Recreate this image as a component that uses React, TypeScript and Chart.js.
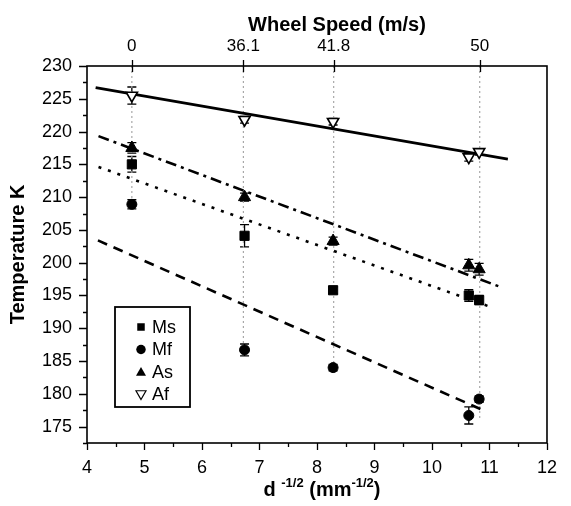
import React, { useEffect, useRef } from 'react';
import { Chart, registerables } from 'chart.js';

Chart.register(...registerables);

const FONT = "'Liberation Sans', Arial, Helvetica, sans-serif";

// ---- data ----
const seriesNames = ['Ms', 'Mf', 'As', 'Af'];
const pointX = [4.78, 6.74, 8.28, 10.64, 10.82];
const msValues = [215.0, 204.1, 195.8, 195.0, 194.3];
const mfValues = [208.9, 186.7, 184.0, 176.7, 179.2];
const asValues = [217.5, 210.0, 203.3, 199.6, 199.0];
const afValues = [225.5, 221.8, 221.5, 216.1, 216.9];
const msErrors = [1.2, 1.7, 0.5, 0.9, 0.7];
const mfErrors = [0.7, 0.9, 0.5, 1.3, 0.5];
const asErrors = [0.8, 0.6, 0.6, 0.9, 0.9];
const afErrors = [1.3, 0.5, 0.5, 0.6, 0.5];

// linear fits (endpoints)
const msFitX = [4.2, 10.97];
const msFitY = [214.6, 193.4];
const mfFitX = [4.19, 10.94];
const mfFitY = [203.4, 177.3];
const asFitX = [4.2, 11.19];
const asFitY = [219.3, 196.3];
const afFitX = [4.15, 11.32];
const afFitY = [226.7, 215.8];

// wheel speed (top axis)
const speedPositions = [4.78, 6.72, 8.29, 10.83];
const speedLabels = ['0', '36.1', '41.8', '50'];
const guideBottoms = [208.5, 186.3, 183.6, 176.0];

const xTicks = [4, 5, 6, 7, 8, 9, 10, 11, 12];
const yTicks = [175, 180, 185, 190, 195, 200, 205, 210, 215, 220, 225, 230];

const X_MIN = 4;
const X_MAX = 12;
const Y_MIN = 172.5;
const Y_MAX = 230;

const valuesBySeries = [msValues, mfValues, asValues, afValues];
const errorsBySeries = [msErrors, mfErrors, asErrors, afErrors];
const fitsBySeries = [
  [msFitX, msFitY],
  [mfFitX, mfFitY],
  [asFitX, asFitY],
  [afFitX, afFitY],
];
const fitDashes = [[3, 7], [10, 7], [11, 5, 3, 5], []];
const markerStyles = [
  { pointStyle: 'rect', radius: 6.5, rotation: 0, fill: '#000', border: 1 },
  { pointStyle: 'circle', radius: 5, rotation: 0, fill: '#000', border: 1 },
  { pointStyle: 'triangle', radius: 7, rotation: 0, fill: '#000', border: 1 },
  { pointStyle: 'triangle', radius: 6.5, rotation: 180, fill: '#fff', border: 1.6 },
];

function drawShape(ctx: CanvasRenderingContext2D, kind: number, x: number, y: number, s: number) {
  ctx.save();
  ctx.strokeStyle = '#000';
  ctx.fillStyle = '#000';
  ctx.lineWidth = 1.2;
  ctx.beginPath();
  if (kind === 0) {
    ctx.rect(x - s * 0.75, y - s * 0.75, s * 1.5, s * 1.5);
    ctx.fill();
  } else if (kind === 1) {
    ctx.arc(x, y, s * 0.95, 0, Math.PI * 2);
    ctx.fill();
  } else if (kind === 2) {
    ctx.moveTo(x, y - s);
    ctx.lineTo(x + s * 1.0, y + s * 0.75);
    ctx.lineTo(x - s * 1.0, y + s * 0.75);
    ctx.closePath();
    ctx.fill();
  } else {
    ctx.moveTo(x, y + s);
    ctx.lineTo(x + s * 1.0, y - s * 0.75);
    ctx.lineTo(x - s * 1.0, y - s * 0.75);
    ctx.closePath();
    ctx.fillStyle = '#fff';
    ctx.fill();
    ctx.stroke();
  }
  ctx.restore();
}

const errorBarPlugin = {
  id: 'errorBars',
  beforeDatasetsDraw(chart: any) {
    const ctx = chart.ctx as CanvasRenderingContext2D;
    const yScale = chart.scales.y;
    ctx.save();
    ctx.strokeStyle = '#000';
    ctx.lineWidth = 1.3;
    chart.data.datasets.forEach((ds: any, di: number) => {
      if (ds.errors == null) return;
      const meta = chart.getDatasetMeta(di);
      meta.data.forEach((pt: any, j: number) => {
        const v = ds.data[j].y;
        const e = ds.errors[j];
        const x = pt.x;
        const yTop = yScale.getPixelForValue(v + e);
        const yBot = yScale.getPixelForValue(v - e);
        ctx.beginPath();
        ctx.moveTo(x, yTop);
        ctx.lineTo(x, yBot);
        ctx.moveTo(x - 4.5, yTop);
        ctx.lineTo(x + 4.5, yTop);
        ctx.moveTo(x - 4.5, yBot);
        ctx.lineTo(x + 4.5, yBot);
        ctx.stroke();
      });
    });
    ctx.restore();
  },
};

const framePlugin = {
  id: 'frame',
  afterDraw(chart: any) {
    const ctx = chart.ctx as CanvasRenderingContext2D;
    const { left, right, top, bottom } = chart.chartArea;
    const xs = chart.scales.x;
    const ys = chart.scales.y;
    ctx.save();
    ctx.strokeStyle = '#000';
    ctx.lineWidth = 1.6;
    ctx.strokeRect(left, top, right - left, bottom - top);
    ctx.lineWidth = 1.3;
    ctx.beginPath();
    // y ticks (outward)
    for (let v = Y_MIN; v <= Y_MAX + 1e-6; v += 2.5) {
      const y = Math.round(ys.getPixelForValue(v)) + 0.5;
      const major = Math.abs(v / 5 - Math.round(v / 5)) < 1e-6;
      ctx.moveTo(left, y);
      ctx.lineTo(left - (major ? 8 : 4), y);
    }
    // bottom x ticks (outward)
    for (let v = X_MIN; v <= X_MAX + 1e-6; v += 0.5) {
      const x = Math.round(xs.getPixelForValue(v)) + 0.5;
      const major = Math.abs(v - Math.round(v)) < 1e-6;
      ctx.moveTo(x, bottom);
      ctx.lineTo(x, bottom + (major ? 7 : 4));
    }
    // top ticks (crossing)
    speedPositions.forEach((p) => {
      const x = Math.round(xs.getPixelForValue(p)) + 0.5;
      ctx.moveTo(x, top - 6);
      ctx.lineTo(x, top + 6);
    });
    ctx.stroke();

    // legend
    const lx = 115, ly = 307, lw = 75, lh = 100;
    ctx.lineWidth = 1.8;
    ctx.fillStyle = '#fff';
    ctx.fillRect(lx, ly, lw, lh);
    ctx.strokeRect(lx, ly, lw, lh);
    ctx.font = `18px ${FONT}`;
    ctx.textBaseline = 'middle';
    ctx.textAlign = 'left';
    seriesNames.forEach((name, i) => {
      const cy = ly + 20 + i * 22.5;
      drawShape(ctx, i, 141, cy, 5);
      ctx.fillStyle = '#000';
      ctx.fillText(name, 152, cy + 1);
    });

    // top title
    ctx.font = `bold 20px ${FONT}`;
    ctx.textAlign = 'center';
    ctx.textBaseline = 'alphabetic';
    ctx.fillStyle = '#000';
    ctx.fillText('Wheel Speed (m/s)', 337, 31);

    // bottom title with superscripts
    const parts: [string, boolean][] = [
      ['d ', false],
      ['-1/2', true],
      [' (mm', false],
      ['-1/2', true],
      [')', false],
    ];
    const bigFont = `bold 20px ${FONT}`;
    const smallFont = `bold 13px ${FONT}`;
    let total = 0;
    parts.forEach(([t, sup]) => {
      ctx.font = sup ? smallFont : bigFont;
      total += ctx.measureText(t).width;
    });
    let cx = 322 - total / 2;
    ctx.textAlign = 'left';
    parts.forEach(([t, sup]) => {
      ctx.font = sup ? smallFont : bigFont;
      ctx.fillText(t, cx, sup ? 487 : 496);
      cx += ctx.measureText(t).width;
    });
    ctx.restore();
  },
};

export default function App() {
  const ref = useRef<HTMLCanvasElement | null>(null);

  useEffect(() => {
    document.body.style.margin = '0';
    const canvas = ref.current;
    if (!canvas) return;

    const datasets: any[] = [];
    // markers
    seriesNames.forEach((name, i) => {
      const st = markerStyles[i];
      datasets.push({
        label: name,
        data: pointX.map((x, j) => ({ x, y: valuesBySeries[i][j] })),
        errors: errorsBySeries[i],
        showLine: false,
        pointStyle: st.pointStyle,
        pointRadius: st.radius,
        pointRotation: st.rotation,
        backgroundColor: st.fill,
        borderColor: '#000',
        pointBorderWidth: st.border,
        order: 0,
      });
    });
    // fit lines
    seriesNames.forEach((name, i) => {
      const [fx, fy] = fitsBySeries[i];
      datasets.push({
        label: name + ' fit',
        data: fx.map((x, j) => ({ x, y: fy[j] })),
        showLine: true,
        borderColor: '#000',
        borderWidth: 2.6,
        borderDash: fitDashes[i],
        pointRadius: 0,
        fill: false,
        order: 1,
      });
    });
    // dotted guides
    speedPositions.forEach((p, i) => {
      datasets.push({
        label: 'guide ' + speedLabels[i],
        data: [
          { x: p, y: Y_MAX },
          { x: p, y: guideBottoms[i] },
        ],
        showLine: true,
        borderColor: '#a8a8a8',
        borderWidth: 1.2,
        borderDash: [2, 3],
        pointRadius: 0,
        fill: false,
        order: 2,
      });
    });

    const tickFont = { family: FONT, size: 17 };
    const bottomFont = { family: FONT, size: 18 };

    const chart = new Chart(canvas, {
      type: 'scatter',
      data: { datasets },
      options: {
        animation: false,
        responsive: false,
        maintainAspectRatio: false,
        layout: { padding: { left: 0, right: 14, top: 0, bottom: 0 } },
        plugins: {
          legend: { display: false },
          tooltip: { enabled: false },
          title: { display: false },
        },
        scales: {
          x: {
            type: 'linear',
            position: 'bottom',
            min: X_MIN,
            max: X_MAX,
            afterBuildTicks: (s: any) => {
              s.ticks = xTicks.map((v) => ({ value: v }));
            },
            afterFit: (s: any) => {
              s.height = 63;
            },
            ticks: {
              font: bottomFont,
              color: '#000',
              padding: 14,
              autoSkip: false,
              maxRotation: 0,
              callback: (v: any) => String(v),
            },
            grid: { display: false, drawTicks: false },
            border: { display: false },
          },
          xTop: {
            type: 'linear',
            position: 'top',
            min: X_MIN,
            max: X_MAX,
            afterBuildTicks: (s: any) => {
              s.ticks = speedPositions.map((v) => ({ value: v }));
            },
            afterFit: (s: any) => {
              s.height = 66;
            },
            ticks: {
              font: tickFont,
              color: '#000',
              padding: 9,
              autoSkip: false,
              maxRotation: 0,
              callback: (_v: any, idx: number) => speedLabels[idx],
            },
            grid: { display: false, drawTicks: false },
            border: { display: false },
          },
          y: {
            type: 'linear',
            min: Y_MIN,
            max: Y_MAX,
            afterBuildTicks: (s: any) => {
              s.ticks = yTicks.map((v) => ({ value: v }));
            },
            afterFit: (s: any) => {
              s.width = 87;
            },
            ticks: {
              font: bottomFont,
              color: '#000',
              padding: 15,
              autoSkip: false,
              callback: (v: any) => String(v),
            },
            title: {
              display: true,
              text: 'Temperature K',
              color: '#000',
              font: { family: FONT, size: 20, weight: 'bold' },
              padding: { top: 6, bottom: 0 },
            },
            grid: { display: false, drawTicks: false },
            border: { display: false },
          },
        },
      } as any,
      plugins: [errorBarPlugin, framePlugin],
    });

    return () => {
      chart.destroy();
    };
  }, []);

  return (
    <div style={{ width: 571, height: 506, background: '#fff' }}>
      <canvas ref={ref} width={571} height={506} style={{ display: 'block' }} />
    </div>
  );
}
